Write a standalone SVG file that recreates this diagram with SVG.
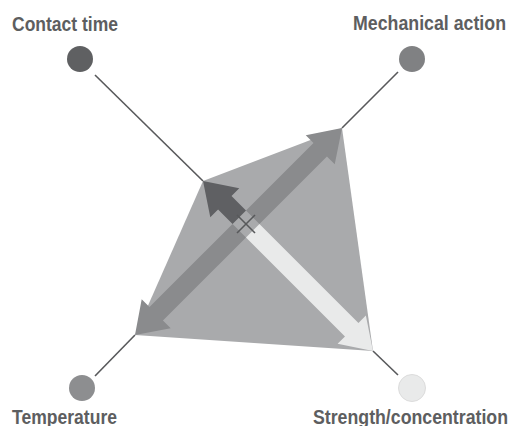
<svg xmlns="http://www.w3.org/2000/svg" width="510" height="426" viewBox="0 0 510 426">
<style>
.lbl{font-family:"Liberation Sans",Arial,sans-serif;font-weight:bold;font-size:20px;fill:#5d5e60}
.conn{stroke:#58595b;stroke-width:1.6;fill:none}
</style>
<rect width="510" height="426" fill="#ffffff"/>
<g id="kite">
<polygon points="203,181 342,128 373,351 135,335" fill="#a9aaac"/>
</g>
<g id="arrows">
<path id="arrow-contact" transform="translate(246,224) rotate(-135)" d="M9.5,-9.5 L30,-9.5 L30,-20.5 L60.8,0 L30,20.5 L30,9.5 L9.5,9.5 Z" fill="#5f6063"/>
<path id="arrow-strength" transform="translate(246,224) rotate(45)" d="M9.5,-9.5 L149.5,-9.5 L149.5,-20 L179.6,0 L149.5,20 L149.5,9.5 L9.5,9.5 Z" fill="#e9eaea"/>
<path id="arrow-mech" transform="translate(246,224) rotate(-45)" d="M9.5,-9.5 L105,-9.5 L105,-20.5 L135.8,0 L105,20.5 L105,9.5 L9.5,9.5 Z" fill="#8a8b8d"/>
<path id="arrow-temp" transform="translate(246,224) rotate(135)" d="M9.5,-9.5 L127,-9.5 L127,-20.5 L157,0 L127,20.5 L127,9.5 L9.5,9.5 Z" fill="#8a8b8d"/>
</g>
<g id="connectors">
<line class="conn" x1="95" y1="75" x2="203" y2="181"/>
<line class="conn" x1="398" y1="72" x2="342" y2="128"/>
<line class="conn" x1="95" y1="376" x2="135" y2="335"/>
<line class="conn" x1="398" y1="375" x2="373" y2="351"/>
<line class="conn" x1="237" y1="215" x2="255" y2="233"/>
<line class="conn" x1="255" y1="215" x2="237" y2="233"/>
</g>
<g id="node-contact">
<circle cx="80" cy="59" r="13" fill="#5f6062"/>
<text class="lbl" x="12" y="31" textLength="106" lengthAdjust="spacingAndGlyphs">Contact time</text>
</g>
<g id="node-mechanical">
<circle cx="412" cy="59" r="13" fill="#808183"/>
<text class="lbl" x="353" y="30" textLength="153" lengthAdjust="spacingAndGlyphs">Mechanical action</text>
</g>
<g id="node-temperature">
<circle cx="82" cy="388" r="13" fill="#8d8e90"/>
<text class="lbl" x="12" y="424" textLength="105" lengthAdjust="spacingAndGlyphs">Temperature</text>
</g>
<g id="node-strength">
<circle cx="412" cy="388" r="13.5" fill="#e9eaea" stroke="#dcdcdc" stroke-width="1"/>
<text class="lbl" x="313" y="424" textLength="195" lengthAdjust="spacingAndGlyphs">Strength/concentration</text>
</g>
</svg>
